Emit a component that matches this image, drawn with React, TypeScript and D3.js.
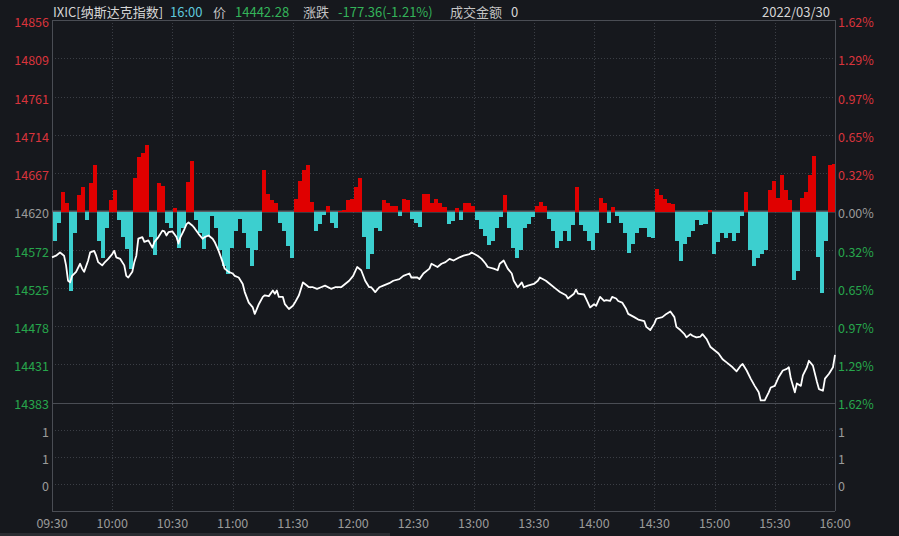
import * as d3 from "d3";
import React, { useEffect, useRef } from "react";

// previous close and last trade
const prevClose = 14619.64;
const lastPrice = 14442.28;
const maxPct = 1.62;

// left axis (price) and right axis (percent) labels
const priceTicks = [14856, 14809, 14761, 14714, 14667, 14620, 14572, 14525, 14478, 14431, 14383];
const pctTicks = ["1.62%", "1.29%", "0.97%", "0.65%", "0.32%", "0.00%", "0.32%", "0.65%", "0.97%", "1.29%", "1.62%"];

// lower (turnover) panel
const volTicks = [1.5, 1, 0.5];
const volTickLabels = ["1", "1", "0"];

const timeLabels = ["09:30", "10:00", "10:30", "11:00", "11:30", "12:00", "12:30", "13:00", "13:30", "14:00", "14:30", "15:00", "15:30", "16:00"];

// price line: minutes after 09:30 and price
const lineMinutes = [
	0, 2, 4, 6, 7, 8, 9, 10, 12, 14, 15, 16, 18, 19, 21, 22, 23, 25, 26, 28, 30, 31, 32, 34, 36, 37, 38, 40, 41, 42,
	43, 45, 46, 48, 50, 51, 53, 55, 56, 57, 58, 60, 62, 63, 64, 66, 67, 68, 70, 71, 73, 75, 76, 78, 80, 81, 83, 85, 86, 88,
	90, 91, 93, 95, 96, 98, 100, 101, 102, 103, 105, 106, 108, 110, 111, 112, 113, 115, 116, 118, 120, 121, 123, 125, 126, 128, 130, 132, 134, 136,
	139, 141, 144, 146, 148, 150, 152, 154, 156, 158, 159, 161, 163, 165, 168, 170, 173, 175, 178, 179, 182, 183, 185, 188, 189, 192, 194, 196, 198, 200,
	203, 205, 208, 209, 212, 214, 216, 217, 220, 222, 223, 225, 227, 229, 230, 232, 234, 235, 237, 240, 242, 243, 246, 248, 251, 253, 256, 257, 260, 261,
	262, 265, 266, 268, 270, 271, 273, 275, 276, 278, 279, 281, 282, 284, 286, 287, 290, 292, 295, 296, 298, 300, 301, 304, 306, 308, 310, 311, 313, 315,
	316, 318, 319, 321, 323, 324, 326, 328, 330, 332, 334, 336, 339, 341, 343, 344, 346, 348, 350, 352, 353, 355, 357, 358, 360, 362, 364, 366, 367, 368,
	370, 371, 373, 374, 376, 377, 379, 381, 382, 384, 385, 387, 389, 390,
];
const linePrices = [
	14563, 14565, 14569, 14565, 14553, 14534, 14532, 14540, 14545, 14555, 14549, 14545, 14559, 14569, 14571, 14565, 14557, 14553, 14556, 14561, 14567, 14571, 14563, 14561, 14553, 14540, 14538, 14545, 14557, 14565,
	14586, 14588, 14582, 14584, 14575, 14582, 14588, 14596, 14595, 14590, 14594, 14595, 14588, 14580, 14588, 14598, 14604, 14606, 14602, 14599, 14592, 14586, 14588, 14590, 14586, 14582, 14571, 14557, 14549, 14545,
	14543, 14540, 14538, 14530, 14520, 14507, 14501, 14493, 14499, 14505, 14514, 14516, 14515, 14522, 14518, 14522, 14514, 14514, 14505, 14499, 14503, 14507, 14516, 14532, 14530, 14526, 14526, 14524, 14526, 14528,
	14524, 14526, 14526, 14530, 14534, 14540, 14551, 14547, 14534, 14526, 14526, 14520, 14526, 14528, 14531, 14534, 14536, 14540, 14543, 14538, 14538, 14536, 14543, 14549, 14555, 14551, 14555, 14557, 14561, 14559,
	14563, 14565, 14567, 14569, 14565, 14561, 14555, 14551, 14549, 14547, 14555, 14559, 14549, 14543, 14534, 14526, 14532, 14526, 14528, 14530, 14534, 14538, 14534, 14530, 14524, 14520, 14516, 14512, 14518, 14523,
	14518, 14517, 14512, 14501, 14505, 14503, 14514, 14509, 14510, 14509, 14514, 14512, 14509, 14507, 14499, 14493, 14489, 14486, 14484, 14477, 14473, 14481, 14487, 14489, 14493, 14496, 14489, 14477, 14473, 14468,
	14464, 14468, 14466, 14464, 14465, 14468, 14462, 14452, 14448, 14444, 14437, 14433, 14427, 14422, 14429, 14431, 14423, 14413, 14404, 14396, 14386, 14386, 14396, 14402, 14404, 14415, 14423, 14425, 14427, 14413,
	14396, 14407, 14404, 14417, 14427, 14435, 14429, 14409, 14400, 14398, 14413, 14419, 14427, 14442.28,
];

// red/cyan bars, one per 2 minutes, in index points above/below previous close
const barStep = 2;
const barValues = [
	-36, -14, 24, 10, -98, -27, 20, 30, -11, 35, 57, -36, -58, -20, 14, 26, -11, -32, -46, -71,
	42, 67, 72, 82, -32, -54, 35, 32, -14, -20, 4, -45, -20, 37, 63, -11, -27, -46, -30, -5,
	-21, -48, -67, -77, -45, -24, -9, -27, -45, -67, -48, -24, 51, 22, 14, 10, -14, -24, -43, -58,
	16, 38, 51, 57, 12, -24, -15, -4, 7, -14, -20, 1, 2, 14, 16, 30, 41, -32, -71, -52,
	-20, -24, 14, 11, 7, 7, -5, 15, 14, -9, -14, -19, 22, 22, 11, 16, 10, 5, -15, -12,
	4, -11, 10, 11, 7, -11, -22, -30, -42, -36, -21, -7, 20, -20, -45, -57, -48, -20, -15, -7,
	7, 12, 7, -9, -24, -45, -36, -24, -36, -17, 30, -17, -24, -36, -48, -26, 17, 10, -14, 5,
	-6, -14, -27, -51, -40, -27, -21, -20, -32, -33, 28, 20, 16, 11, 9, -36, -61, -40, -32, -24,
	-11, -17, -15, 2, -52, -38, -27, -33, -27, -36, -27, -5, 24, -48, -67, -57, -52, -48, 26, 38,
	17, 45, 26, 14, -85, -73, 17, 24, 45, 69, -56, -101, -37, 57, 59,
];

const W = 899;
const H = 536;
const left = 52;
const right = 835;
const top = 20;
const mid = 403;
const bottom = 511;

const bg = "#16181d";
const gridColor = "#3b3e45";
const axisColor = "#4a4d54";
const upColor = "#d9343c";
const downColor = "#27a64c";
const flatColor = "#9a9a9a";
const font = "'Noto Sans CJK SC', 'Noto Sans', sans-serif";

const App = (): JSX.Element => {
	const svgRef = useRef<SVGSVGElement>(null);

	useEffect(() => {
		const svg = d3.select(svgRef.current);
		svg.selectAll("*").remove();
		const g = svg.append("g");

		const x = d3.scaleLinear().domain([0, 390]).range([left, right]);
		const y = d3
			.scaleLinear()
			.domain([prevClose * (1 - maxPct / 100), prevClose * (1 + maxPct / 100)])
			.range([mid, top]);
		const yVol = d3.scaleLinear().domain([0, 2]).range([bottom, mid]);

		g.append("rect").attr("width", W).attr("height", H).attr("fill", bg);
		g.append("rect").attr("x", 0).attr("y", 533).attr("width", 390).attr("height", 3).attr("fill", "#2a2c31");

		// dotted grid
		const hGrid = priceTicks.slice(1, -1).map((p) => y(p)).concat(volTicks.map((v) => yVol(v)));
		g.selectAll(".hgrid")
			.data(hGrid)
			.join("line")
			.attr("x1", left)
			.attr("x2", right)
			.attr("y1", (d) => Math.round(d) + 0.5)
			.attr("y2", (d) => Math.round(d) + 0.5)
			.attr("stroke", gridColor)
			.attr("stroke-dasharray", "1 2");
		g.selectAll(".vgrid")
			.data(timeLabels.slice(1, -1))
			.join("line")
			.attr("x1", (_, i) => Math.round(x((i + 1) * 30)) + 0.5)
			.attr("x2", (_, i) => Math.round(x((i + 1) * 30)) + 0.5)
			.attr("y1", top)
			.attr("y2", bottom)
			.attr("stroke", gridColor)
			.attr("stroke-dasharray", "1 2");

		// frame
		g.selectAll(".frameh")
			.data([top, mid, bottom])
			.join("line")
			.attr("x1", left)
			.attr("x2", right)
			.attr("y1", (d) => d + 0.5)
			.attr("y2", (d) => d + 0.5)
			.attr("stroke", axisColor);
		g.selectAll(".framev")
			.data([left, right])
			.join("line")
			.attr("x1", (d) => d + 0.5)
			.attr("x2", (d) => d + 0.5)
			.attr("y1", top)
			.attr("y2", bottom)
			.attr("stroke", axisColor);

		// zero line at previous close
		g.append("line")
			.attr("x1", left)
			.attr("x2", right)
			.attr("y1", y(prevClose))
			.attr("y2", y(prevClose))
			.attr("stroke", "#5c5f66")
			.attr("stroke-width", 2);

		// bars
		const bx = (i: number) => Math.round(x(i * barStep)) + 1;
		g.selectAll(".bar")
			.data(barValues)
			.join("rect")
			.attr("shape-rendering", "crispEdges")
			.attr("x", (_, i) => bx(i))
			.attr("width", (_, i) => Math.min(bx(i + 1), right) - bx(i))
			.attr("y", (d) => Math.min(y(prevClose + d), y(prevClose)))
			.attr("height", (d) => Math.abs(y(prevClose + d) - y(prevClose)))
			.attr("fill", (d) => (d > 0 ? "#e00000" : "#3ccfcf"));

		// price line
		const pts = lineMinutes.map((m, i) => [m, linePrices[i]] as [number, number]);
		const line = d3
			.line<[number, number]>()
			.x((d) => x(d[0]))
			.y((d) => y(d[1]));
		g.append("path")
			.datum(pts)
			.attr("d", line)
			.attr("fill", "none")
			.attr("stroke", "#ffffff")
			.attr("stroke-width", 1.8)
			.attr("stroke-linejoin", "round");

		// axis labels
		const labelColor = (i: number) => (i < 5 ? upColor : i === 5 ? flatColor : downColor);
		g.selectAll(".ly")
			.data(priceTicks)
			.join("text")
			.attr("x", left - 3)
			.attr("y", (d) => y(d) + 1)
			.attr("text-anchor", "end")
			.attr("dominant-baseline", "central")
			.attr("fill", (_, i) => labelColor(i))
			.style("font", `12.5px ${font}`)
			.text((d) => d);
		g.selectAll(".ry")
			.data(pctTicks)
			.join("text")
			.attr("x", right + 3)
			.attr("y", (_, i) => y(priceTicks[i]) + 1)
			.attr("dominant-baseline", "central")
			.attr("fill", (_, i) => labelColor(i))
			.style("font", `12.5px ${font}`)
			.text((d) => d);
		g.selectAll(".lv")
			.data(volTicks)
			.join("text")
			.attr("x", left - 3)
			.attr("y", (d) => yVol(d) + 1)
			.attr("text-anchor", "end")
			.attr("dominant-baseline", "central")
			.attr("fill", flatColor)
			.style("font", `12.5px ${font}`)
			.text((_, i) => volTickLabels[i]);
		g.selectAll(".rv")
			.data(volTicks)
			.join("text")
			.attr("x", right + 3)
			.attr("y", (d) => yVol(d) + 1)
			.attr("dominant-baseline", "central")
			.attr("fill", flatColor)
			.style("font", `12.5px ${font}`)
			.text((_, i) => volTickLabels[i]);
		g.selectAll(".tx")
			.data(timeLabels)
			.join("text")
			.attr("x", (_, i) => x(i * 30))
			.attr("y", 522)
			.attr("text-anchor", "middle")
			.attr("dominant-baseline", "central")
			.attr("fill", flatColor)
			.style("font", `12.5px ${font}`)
			.text((d) => d);

		// header
		const chg = lastPrice - prevClose;
		const header: [string, number, string][] = [
			["IXIC[纳斯达克指数]", 53, "#d6d6d6"],
			["16:00", 170, "#5ec8dc"],
			["价", 213, "#c4c4c4"],
			[lastPrice.toFixed(2), 235, "#34b45a"],
			["涨跌", 303, "#c4c4c4"],
			[`${chg.toFixed(2)}(${((chg / prevClose) * 100).toFixed(2)}%)`, 338, "#34b45a"],
			["成交金额", 450, "#c4c4c4"],
			["0", 511, "#d6d6d6"],
		];
		g.selectAll(".hd")
			.data(header)
			.join("text")
			.attr("x", (d) => d[1])
			.attr("y", 11)
			.attr("dominant-baseline", "central")
			.attr("fill", (d) => d[2])
			.style("font", `13px ${font}`)
			.text((d) => d[0]);
		g.append("text")
			.attr("x", 830)
			.attr("y", 11)
			.attr("text-anchor", "end")
			.attr("dominant-baseline", "central")
			.attr("fill", "#d6d6d6")
			.style("font", `13px ${font}`)
			.text("2022/03/30");

		return () => {
			g.remove();
		};
	}, []);

	return (
		<svg
			ref={svgRef}
			width={W}
			height={H}
			style={{ position: "absolute", left: 0, top: 0, display: "block" }}
		/>
	);
};

export default App;
